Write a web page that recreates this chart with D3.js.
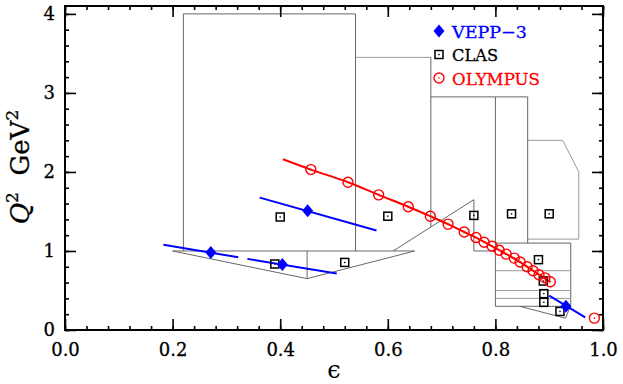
<!DOCTYPE html>
<html>
<head>
<meta charset="utf-8">
<script src="https://cdn.jsdelivr.net/npm/d3@7"></script>
<style>
  body { margin: 0; background: #fff; }
  svg { display: block; }
</style>
</head>
<body>
<div id="chart-area"></div>
<script>
/* DATA */
// VEPP-3 points (eps, Q2)
const veppPoints = [
  [0.271, 0.98], [0.404, 0.83], [0.451, 1.51], [0.931, 0.30]
];
// VEPP-3 lines, each one a run of (eps, Q2)
const veppLines = [
  [[0.183, 1.08], [0.322, 0.92]],
  [[0.339, 0.90], [0.505, 0.715]],
  [[0.362, 1.675], [0.579, 1.26]],
  [[0.90, 0.435], [0.967, 0.16]]
];
// CLAS points
const clasPoints = [
  [0.40, 1.43], [0.39, 0.835], [0.52, 0.855], [0.60, 1.44], [0.76, 1.45],
  [0.83, 1.47], [0.90, 1.47], [0.88, 0.89], [0.889, 0.62], [0.89, 0.46],
  [0.89, 0.35], [0.92, 0.235]
];
// OLYMPUS points
const olympusPoints = [
  [0.457, 2.03], [0.526, 1.87], [0.583, 1.71], [0.638, 1.56], [0.679, 1.44],
  [0.712, 1.34], [0.742, 1.24], [0.764, 1.17], [0.779, 1.11], [0.794, 1.06],
  [0.807, 1.01], [0.820, 0.96], [0.835, 0.91], [0.846, 0.86], [0.859, 0.80],
  [0.870, 0.75], [0.881, 0.70], [0.892, 0.66], [0.902, 0.61], [0.984, 0.15]
];
// OLYMPUS line
const olympusLine = [
  [0.405, 2.16], [0.457, 2.03], [0.526, 1.87], [0.583, 1.71], [0.638, 1.56],
  [0.679, 1.44], [0.712, 1.34], [0.742, 1.24], [0.764, 1.17], [0.807, 1.01],
  [0.846, 0.86], [0.881, 0.70], [0.902, 0.61]
];
// acceptance regions (outlines)
const darkRegions = [
  [[0.22, 1.0], [0.22, 4.0], [0.54, 4.0], [0.54, 1.0]],
  [[0.68, 3.45], [0.68, 1.30]],
  [[0.68, 2.95], [0.80, 2.95]],
  [[0.80, 0.30], [0.80, 2.95], [0.86, 2.95], [0.86, 1.10]],
  [[0.20, 1.0], [0.65, 1.0]],
  [[0.20, 1.0], [0.45, 0.65], [0.65, 1.0]],
  [[0.45, 1.0], [0.45, 0.65]],
  [[0.61, 1.0], [0.76, 1.65], [0.76, 1.0], [0.80, 1.0]],
  [[0.80, 1.10], [0.94, 1.10], [0.94, 0.30], [0.80, 0.30]],
  [[0.845, 0.30], [0.93, 0.15], [0.94, 0.30]]
];
const lightRegions = [
  [[0.54, 3.45], [0.68, 3.45]],
  [[0.86, 2.40], [0.925, 2.40], [0.955, 2.0], [0.955, 1.15], [0.86, 1.15]],
  [[0.80, 0.75], [0.94, 0.75]],
  [[0.80, 0.50], [0.94, 0.50]],
  [[0.80, 0.40], [0.94, 0.40]]
];
const xMajor = [0, 0.2, 0.4, 0.6, 0.8, 1.0];
const xMinor = d3.range(0, 1.0001, 0.04);
const yMajor = [0, 1, 2, 3, 4];
const yMinor = d3.range(0, 4.0001, 0.2);
const legendItems = ['VEPP\u22123', 'CLAS', 'OLYMPUS'];

/* LAYOUT */
const W = 623, H = 384;
const svg = d3.select('#chart-area').append('svg')
  .attr('width', W).attr('height', H);

const x = d3.scaleLinear().domain([0, 1]).range([65, 603]);
const y = d3.scaleLinear().domain([0, 4.1]).range([330, 6]);
const font = 'DejaVu Serif';
const blue = '#0000ff', red = '#ff0000';

const line = d3.line().x(d => x(d[0])).y(d => y(d[1]));

// regions
svg.append('g').selectAll('path').data(darkRegions).join('path')
  .attr('d', line).attr('fill', 'none').attr('stroke', '#666').attr('stroke-width', 1);
svg.append('g').selectAll('path').data(lightRegions).join('path')
  .attr('d', line).attr('fill', 'none').attr('stroke', '#999').attr('stroke-width', 1);

// axes: ticks inward on all four sides
function styleAxis(g) {
  g.select('.domain').remove();
  g.selectAll('line').attr('stroke', '#000').attr('stroke-width', 1.6);
  g.selectAll('text').attr('font-family', font).attr('font-size', 18).attr('fill', '#000')
    .attr('stroke', '#000').attr('stroke-width', 0.3);
}
svg.append('g').attr('transform', `translate(0,${y(0)})`)
  .call(d3.axisBottom(x).tickValues(xMajor).tickSize(-11).tickPadding(13).tickFormat(d3.format('.1f')))
  .call(styleAxis);
svg.append('g').attr('transform', `translate(0,${y(0)})`)
  .call(d3.axisBottom(x).tickValues(xMinor).tickSize(-4).tickFormat(''))
  .call(styleAxis);
svg.append('g').attr('transform', `translate(0,${y(4.1)})`)
  .call(d3.axisTop(x).tickValues(xMajor).tickSize(-11).tickFormat(''))
  .call(styleAxis);
svg.append('g').attr('transform', `translate(0,${y(4.1)})`)
  .call(d3.axisTop(x).tickValues(xMinor).tickSize(-4).tickFormat(''))
  .call(styleAxis);
svg.append('g').attr('transform', `translate(${x(0)},0)`)
  .call(d3.axisLeft(y).tickValues(yMajor).tickSize(-11).tickPadding(10).tickFormat(d3.format('d')))
  .call(styleAxis);
svg.append('g').attr('transform', `translate(${x(0)},0)`)
  .call(d3.axisLeft(y).tickValues(yMinor).tickSize(-4).tickFormat(''))
  .call(styleAxis);
svg.append('g').attr('transform', `translate(${x(1)},0)`)
  .call(d3.axisRight(y).tickValues(yMajor).tickSize(-11).tickFormat(''))
  .call(styleAxis);
svg.append('g').attr('transform', `translate(${x(1)},0)`)
  .call(d3.axisRight(y).tickValues(yMinor).tickSize(-4).tickFormat(''))
  .call(styleAxis);

svg.append('rect')
  .attr('x', x(0)).attr('y', y(4.1))
  .attr('width', x(1) - x(0)).attr('height', y(0) - y(4.1))
  .attr('fill', 'none').attr('stroke', '#000').attr('stroke-width', 2);

// lines
svg.append('g').selectAll('path').data(veppLines).join('path')
  .attr('d', line).attr('fill', 'none').attr('stroke', blue).attr('stroke-width', 2);
svg.append('path').datum(olympusLine)
  .attr('d', d3.line().x(d => x(d[0])).y(d => y(d[1])).curve(d3.curveMonotoneX))
  .attr('fill', 'none').attr('stroke', red).attr('stroke-width', 2);

// markers
function diamond(g, cx, cy) {
  g.append('path')
    .attr('d', `M${cx},${cy - 6.5}L${cx + 5.5},${cy}L${cx},${cy + 6.5}L${cx - 5.5},${cy}Z`)
    .attr('fill', blue);
}
function square(g, cx, cy) {
  g.append('rect').attr('x', cx - 4).attr('y', cy - 4).attr('width', 8).attr('height', 8)
    .attr('fill', 'none').attr('stroke', '#000').attr('stroke-width', 1.5);
  g.append('rect').attr('x', cx - 0.7).attr('y', cy - 0.7).attr('width', 1.4).attr('height', 1.4)
    .attr('fill', '#000');
}
function circle(g, cx, cy) {
  g.append('circle').attr('cx', cx).attr('cy', cy).attr('r', 5)
    .attr('fill', 'none').attr('stroke', red).attr('stroke-width', 1.4);
  g.append('circle').attr('cx', cx).attr('cy', cy).attr('r', 0.8).attr('fill', red);
}
const marks = svg.append('g');
clasPoints.forEach(d => square(marks, x(d[0]), y(d[1])));
olympusPoints.forEach(d => circle(marks, x(d[0]), y(d[1])));
veppPoints.forEach(d => diamond(marks, x(d[0]), y(d[1])));

// legend
const legend = svg.append('g');
const legendColors = [blue, '#000', red];
const legendMarkers = [diamond, square, circle];
const legendWidths = [75, 46, 88];
legendItems.forEach((name, i) => {
  const cy = 31 + i * 23.5;
  legendMarkers[i](legend, 439, cy);
  legend.append('text')
    .attr('x', 452).attr('y', cy + 6.5)
    .attr('font-family', font).attr('font-size', 17)
    .attr('fill', legendColors[i])
    .attr('stroke', legendColors[i]).attr('stroke-width', 0.3)
    .attr('textLength', legendWidths[i]).attr('lengthAdjust', 'spacingAndGlyphs')
    .text(name);
});

// axis titles
svg.append('text')
  .attr('x', x(0.5)).attr('y', 378)
  .attr('text-anchor', 'middle')
  .attr('font-family', font).attr('font-size', 24)
  .text('\u03f5');

const yt = svg.append('text')
  .attr('transform', 'translate(29,167) rotate(-90)')
  .attr('text-anchor', 'middle')
  .attr('font-family', font).attr('font-size', 26)
  .attr('stroke', '#000').attr('stroke-width', 0.3);
yt.append('tspan').attr('font-style', 'italic').text('Q');
yt.append('tspan').attr('font-size', 17).attr('dy', -11).text('2');
yt.append('tspan').attr('dy', 11).text('\u00a0\u00a0GeV');
yt.append('tspan').attr('font-size', 17).attr('dy', -11).text('2');
</script>
</body>
</html>
